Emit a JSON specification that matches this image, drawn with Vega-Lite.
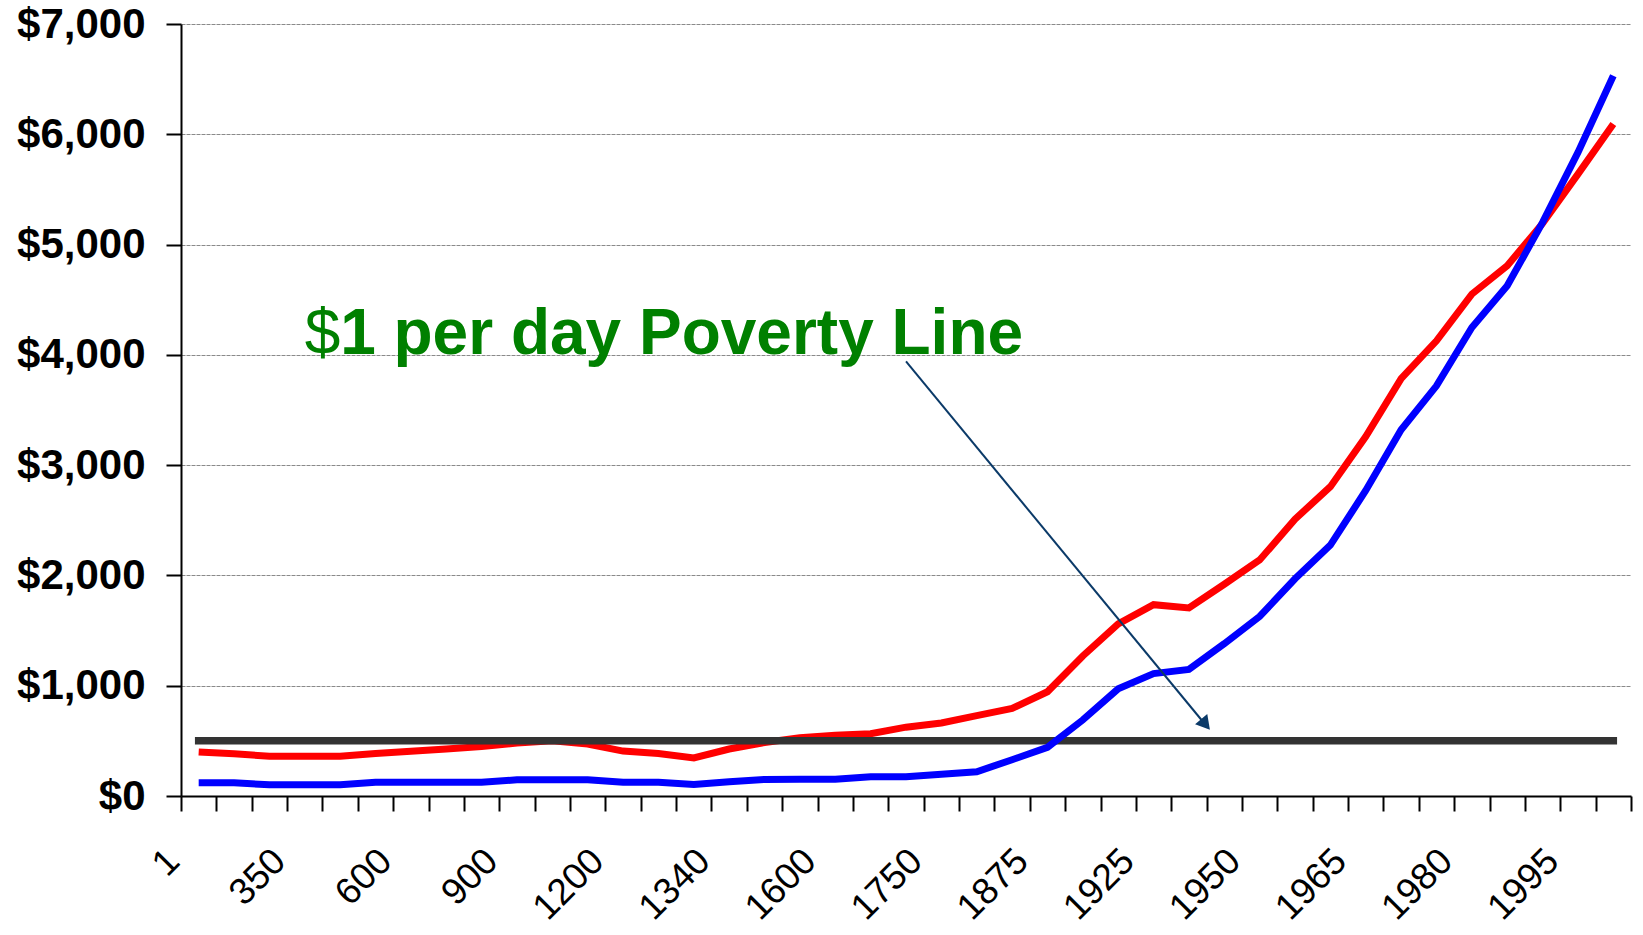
{
  "$schema": "https://vega.github.io/schema/vega-lite/v6.json",
  "width": 1450,
  "height": 772,
  "autosize": {"type": "none"},
  "padding": {"left": 181, "top": 24, "right": 12, "bottom": 139},
  "background": "white",
  "config": {"view": {"stroke": null}, "font": "Liberation Sans"},
  "data": {"values": [
    {"i": 0, "year": 1, "red": 400, "blue": 120},
    {"i": 1, "year": 14, "red": 383, "blue": 120},
    {"i": 2, "year": 200, "red": 360, "blue": 102},
    {"i": 3, "year": 350, "red": 360, "blue": 102},
    {"i": 4, "year": 400, "red": 360, "blue": 102},
    {"i": 5, "year": 500, "red": 385, "blue": 125},
    {"i": 6, "year": 600, "red": 405, "blue": 125},
    {"i": 7, "year": 700, "red": 427, "blue": 125},
    {"i": 8, "year": 800, "red": 448, "blue": 125},
    {"i": 9, "year": 900, "red": 480, "blue": 147},
    {"i": 10, "year": 1000, "red": 500, "blue": 147},
    {"i": 11, "year": 1100, "red": 472, "blue": 147},
    {"i": 12, "year": 1200, "red": 407, "blue": 125},
    {"i": 13, "year": 1250, "red": 386, "blue": 125},
    {"i": 14, "year": 1300, "red": 345, "blue": 105},
    {"i": 15, "year": 1340, "red": 426, "blue": 130},
    {"i": 16, "year": 1400, "red": 485, "blue": 150},
    {"i": 17, "year": 1500, "red": 529, "blue": 152},
    {"i": 18, "year": 1600, "red": 550, "blue": 152},
    {"i": 19, "year": 1650, "red": 565, "blue": 175},
    {"i": 20, "year": 1700, "red": 624, "blue": 175},
    {"i": 21, "year": 1750, "red": 662, "blue": 197},
    {"i": 22, "year": 1800, "red": 729, "blue": 220},
    {"i": 23, "year": 1850, "red": 794, "blue": 329},
    {"i": 24, "year": 1875, "red": 945, "blue": 441},
    {"i": 25, "year": 1900, "red": 1270, "blue": 690},
    {"i": 26, "year": 1920, "red": 1560, "blue": 972},
    {"i": 27, "year": 1925, "red": 1735, "blue": 1110},
    {"i": 28, "year": 1930, "red": 1705, "blue": 1148},
    {"i": 29, "year": 1940, "red": 1920, "blue": 1381},
    {"i": 30, "year": 1950, "red": 2140, "blue": 1628},
    {"i": 31, "year": 1955, "red": 2510, "blue": 1970},
    {"i": 32, "year": 1960, "red": 2805, "blue": 2275},
    {"i": 33, "year": 1965, "red": 3260, "blue": 2770},
    {"i": 34, "year": 1970, "red": 3785, "blue": 3320},
    {"i": 35, "year": 1975, "red": 4127, "blue": 3719},
    {"i": 36, "year": 1980, "red": 4551, "blue": 4248},
    {"i": 37, "year": 1985, "red": 4808, "blue": 4626},
    {"i": 38, "year": 1990, "red": 5192, "blue": 5201},
    {"i": 39, "year": 1995, "red": 5639, "blue": 5836},
    {"i": 40, "year": 2000, "red": 6093, "blue": 6531}
  ]},
  "layer": [
    {
      "mark": {"type": "line", "color": "#ff0000", "strokeWidth": 7},
      "encoding": {
        "x": {
          "field": "i", "type": "quantitative",
          "scale": {"domain": [-0.5, 40.5], "nice": false, "zero": false},
          "axis": {
            "title": null,
            "tickCount": 200,
            "values": [-0.5, 0.5, 1.5, 2.5, 3.5, 4.5, 5.5, 6.5, 7.5, 8.5, 9.5, 10.5, 11.5, 12.5, 13.5, 14.5, 15.5, 16.5, 17.5, 18.5, 19.5, 20.5, 21.5, 22.5, 23.5, 24.5, 25.5, 26.5, 27.5, 28.5, 29.5, 30.5, 31.5, 32.5, 33.5, 34.5, 35.5, 36.5, 37.5, 38.5, 39.5, 40.5],
            "labelExpr": "(['1','','','350','','','600','','','900','','','1200','','','1340','','','1600','','','1750','','','1875','','','1925','','','1950','','','1965','','','1980','','','1995','',''])[datum.value + 0.5] || ''",
            "labelAngle": -45,
            "labelAlign": "right",
            "labelBaseline": "alphabetic",
            "labelFont": "Liberation Sans",
            "labelFontSize": 37,
            "labelColor": "#000000",
            "labelPadding": 52,
            "labelOffset": 0,
            "labelFlush": false,
            "labelOverlap": false,
            "labelBound": false,
            "tickSize": 15,
            "tickWidth": 2,
            "tickColor": "#000000",
            "domainColor": "#000000",
            "domainWidth": 2,
            "grid": false
          }
        },
        "y": {
          "field": "red", "type": "quantitative",
          "scale": {"domain": [0, 7000], "nice": false, "zero": true},
          "axis": {
            "title": null,
            "tickCount": 200,
            "values": [0, 1000, 2000, 3000, 4000, 5000, 6000, 7000],
            "format": "$,.0f",
            "labelFont": "Liberation Sans",
            "labelFontSize": 42,
            "labelFontWeight": "bold",
            "labelColor": "#000000",
            "labelPadding": 21,
            "tickSize": 15,
            "tickWidth": 2,
            "tickColor": "#000000",
            "domainColor": "#000000",
            "domainWidth": 2,
            "grid": true,
            "gridColor": "#8a8a8a",
            "gridWidth": 1,
            "gridDash": [4, 1]
          }
        }
      }
    },
    {
      "mark": {"type": "line", "color": "#333333", "strokeWidth": 7.5, "strokeCap": "square"},
      "encoding": {
        "x": {"field": "i", "type": "quantitative", "axis": {"title": null}},
        "y": {"datum": 500, "type": "quantitative", "axis": {"title": null}}
      }
    },
    {
      "mark": {"type": "line", "color": "#0000ff", "strokeWidth": 7},
      "encoding": {
        "x": {"field": "i", "type": "quantitative", "axis": {"title": null}},
        "y": {"field": "blue", "type": "quantitative", "axis": {"title": null}}
      }
    },
    {
      "data": {"values": [{"note": "arrow"}]},
      "mark": {"type": "rule", "color": "#0b3a68", "strokeWidth": 2},
      "encoding": {
        "x": {"datum": 20, "type": "quantitative", "axis": {"title": null}},
        "y": {"datum": 3940, "type": "quantitative", "axis": {"title": null}},
        "x2": {"datum": 28.38},
        "y2": {"datum": 680}
      }
    },
    {
      "data": {"values": [{"note": "arrowhead"}]},
      "mark": {"type": "point", "shape": "triangle-up", "size": 250, "angle": 140.4, "filled": true, "color": "#0b3a68", "opacity": 1},
      "encoding": {
        "x": {"datum": 28.47, "type": "quantitative", "axis": {"title": null}},
        "y": {"datum": 649, "type": "quantitative", "axis": {"title": null}}
      }
    },
    {
      "data": {"values": [{"note": "$"}]},
      "mark": {"type": "text", "align": "left", "baseline": "alphabetic", "font": "Liberation Sans", "fontSize": 64, "fontWeight": "normal", "color": "#008000"},
      "encoding": {
        "x": {"datum": 3, "type": "quantitative", "axis": {"title": null}},
        "y": {"datum": 4010, "type": "quantitative", "axis": {"title": null}},
        "text": {"field": "note"}
      }
    },
    {
      "data": {"values": [{"note": "1 per day Poverty Line"}]},
      "mark": {"type": "text", "align": "left", "baseline": "alphabetic", "font": "Liberation Sans", "fontSize": 64, "fontWeight": "bold", "color": "#008000"},
      "encoding": {
        "x": {"datum": 4, "type": "quantitative", "axis": {"title": null}},
        "y": {"datum": 4010, "type": "quantitative", "axis": {"title": null}},
        "text": {"field": "note"}
      }
    }
  ]
}
